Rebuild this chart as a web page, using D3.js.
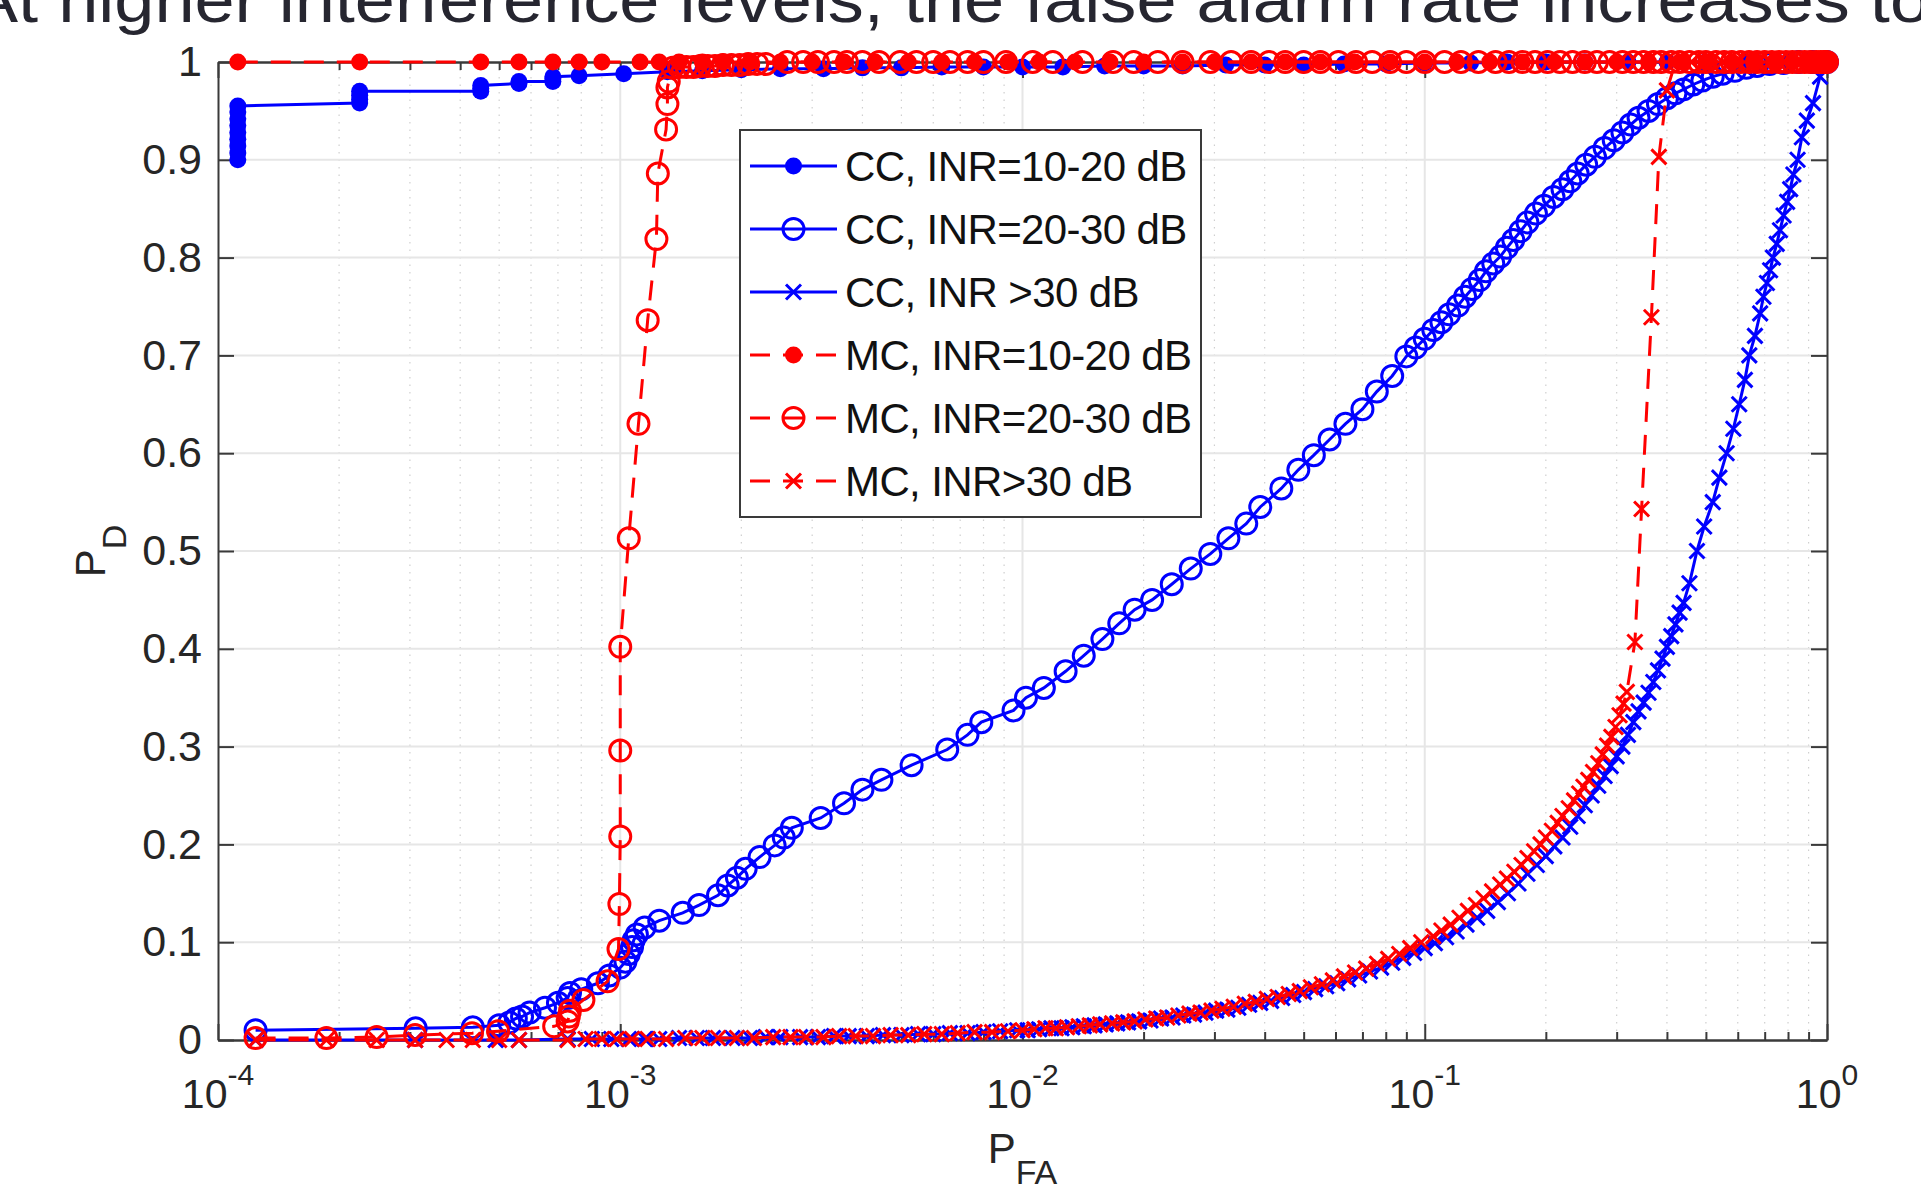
<!DOCTYPE html>
<html>
<head>
<meta charset="utf-8">
<script src="https://cdn.jsdelivr.net/npm/d3@7/dist/d3.min.js"></script>
<style>
    body { margin: 0; background: #fff; }
    svg { display: block; }
</style>
</head>
<body>
<div id="app"></div>
<script>
const titleText = 'At higher interference levels, the false alarm rate increases to';

const seriesNames = ['CC, INR=10-20 dB', 'CC, INR=20-30 dB', 'CC, INR >30 dB',
    'MC, INR=10-20 dB', 'MC, INR=20-30 dB', 'MC, INR>30 dB'];

const yTicks = [0, 0.1, 0.2, 0.3, 0.4, 0.5, 0.6, 0.7, 0.8, 0.9, 1];
const xTicks = [1e-4, 1e-3, 1e-2, 1e-1, 1];

// [P_FA, P_D] pairs
const ccLow = [[1.12e-4,0.900],[1.12e-4,0.907],[1.12e-4,0.914],[1.12e-4,0.921],[1.12e-4,0.928],[1.12e-4,0.935],
    [1.12e-4,0.942],[1.12e-4,0.949],[1.12e-4,0.955],[2.25e-4,0.958],[2.25e-4,0.962],[2.25e-4,0.966],[2.25e-4,0.970],
    [4.5e-4,0.970],[4.5e-4,0.973],[4.5e-4,0.976],[5.6e-4,0.978],[5.6e-4,0.980],[6.8e-4,0.980],[6.8e-4,0.983],
    [6.8e-4,0.985],[7.9e-4,0.986],[1.02e-3,0.988],[1.31e-3,0.990],[1.6e-3,0.991],[2e-3,0.992],[2.5e-3,0.993],
    [3.2e-3,0.993],[4e-3,0.994],[5e-3,0.994],[6.3e-3,0.995],[8e-3,0.995],[1e-2,0.995],[1.26e-2,0.995],[1.6e-2,0.996],
    [2e-2,0.996],[2.5e-2,0.996],[3.2e-2,0.997],[4e-2,0.997],[5e-2,0.997],[6.3e-2,0.998],[8e-2,0.998],[0.1,0.999],
    [0.13,0.999],[0.16,1],[0.2,1],[0.25,1],[0.32,1],[0.4,1],[0.5,1],[0.63,1],[0.8,1],[1,1]];

const ccMid = [[1.24e-4,0.010],[3.1e-4,0.012],[4.3e-4,0.013],[5.0e-4,0.015],[5.3e-4,0.018],[5.5e-4,0.022],
    [5.7e-4,0.024],[5.95e-4,0.028],[6.5e-4,0.033],[7.0e-4,0.038],[7.4e-4,0.043],[7.5e-4,0.048],[8.0e-4,0.052],
    [8.8e-4,0.058],[9.4e-4,0.066],[1.0e-3,0.074],[1.03e-3,0.080],[1.05e-3,0.088],[1.07e-3,0.095],[1.08e-3,0.102],
    [1.1e-3,0.108],[1.15e-3,0.115],[1.25e-3,0.122],[1.43e-3,0.130],[1.57e-3,0.138],[1.75e-3,0.148],[1.85e-3,0.158],
    [1.95e-3,0.166],[2.05e-3,0.175],[2.22e-3,0.187],[2.42e-3,0.199],[2.55e-3,0.207],[2.67e-3,0.217],[3.15e-3,0.227],
    [3.6e-3,0.242],[4.0e-3,0.256],[4.46e-3,0.266],[5.3e-3,0.281],[6.5e-3,0.297],[7.3e-3,0.312],[7.9e-3,0.325],
    [9.5e-3,0.337],[1.02e-2,0.350],[1.13e-2,0.360],[1.28e-2,0.377],[1.42e-2,0.393],[1.58e-2,0.410],[1.74e-2,0.426],
    [1.9e-2,0.440],[2.1e-2,0.450],[2.35e-2,0.466],[2.62e-2,0.482],[2.93e-2,0.497],[3.25e-2,0.513],[3.6e-2,0.528],
    [3.9e-2,0.545],[4.4e-2,0.564],[4.85e-2,0.583],[5.3e-2,0.598],[5.8e-2,0.614],[6.35e-2,0.630],[7.0e-2,0.645],
    [7.6e-2,0.663],[8.3e-2,0.679],[9.0e-2,0.699],[0.095,0.708],[0.1,0.717],[0.105,0.726],[0.11,0.734],[0.115,0.742],
    [0.121,0.751],[0.126,0.760],[0.131,0.768],[0.137,0.777],[0.142,0.786],[0.148,0.794],[0.154,0.801],[0.16,0.810],
    [0.166,0.818],[0.173,0.827],[0.18,0.836],[0.189,0.845],[0.198,0.853],[0.209,0.862],[0.22,0.870],[0.23,0.878],
    [0.24,0.886],[0.252,0.895],[0.265,0.903],[0.28,0.912],[0.295,0.920],[0.31,0.928],[0.325,0.936],[0.34,0.943],
    [0.36,0.950],[0.38,0.957],[0.4,0.963],[0.42,0.968],[0.44,0.972],[0.465,0.977],[0.49,0.981],[0.52,0.985],
    [0.55,0.988],[0.59,0.991],[0.63,0.994],[0.67,0.996],[0.72,0.998],[0.78,0.999],[0.85,1],[0.92,1],[1,1]];

const ccHigh = [[1.24e-4,0],[3.09e-4,0],[4.9e-4,0],[5.6e-4,0],[7.4e-4,0.001],[8.5e-4,0.001],[9.5e-4,0.001],
    [1.05e-3,0.001],[1.15e-3,0.001],[1.25e-3,0.001],[1.4e-3,0.002],[1.55e-3,0.002],[1.7e-3,0.002],[1.9e-3,0.002],
    [2.1e-3,0.002],[2.3e-3,0.003],[2.5e-3,0.003],[2.8e-3,0.003],[3.1e-3,0.003],[3.4e-3,0.004],[3.7e-3,0.004],
    [4.1e-3,0.004],[4.5e-3,0.005],[5e-3,0.005],[5.5e-3,0.006],[6e-3,0.006],[6.6e-3,0.007],[7.3e-3,0.007],
    [8e-3,0.008],[8.8e-3,0.009],[9.7e-3,0.010],[1.03e-2,0.010],[1.1e-2,0.011],[1.18e-2,0.012],[1.25e-2,0.012],
    [1.33e-2,0.013],[1.42e-2,0.014],[1.51e-2,0.015],[1.61e-2,0.016],[1.72e-2,0.017],[1.83e-2,0.018],[1.95e-2,0.019],
    [2.08e-2,0.020],[2.21e-2,0.022],[2.36e-2,0.023],[2.51e-2,0.025],[2.67e-2,0.026],[2.85e-2,0.028],[3.03e-2,0.030],
    [3.23e-2,0.031],[3.44e-2,0.033],[3.66e-2,0.036],[3.9e-2,0.038],[4.15e-2,0.040],[4.42e-2,0.043],[4.71e-2,0.046],
    [5.01e-2,0.049],[5.34e-2,0.052],[5.69e-2,0.055],[6.06e-2,0.058],[6.45e-2,0.062],[6.87e-2,0.066],[7.31e-2,0.070],
    [7.79e-2,0.074],[8.3e-2,0.079],[8.84e-2,0.084],[9.41e-2,0.089],[0.1,0.094],[0.106,0.099],[0.113,0.105],
    [0.12,0.111],[0.127,0.118],[0.135,0.125],[0.143,0.132],[0.152,0.141],[0.161,0.150],[0.171,0.160],[0.18,0.170],
    [0.19,0.179],[0.2,0.188],[0.21,0.198],[0.22,0.207],[0.23,0.218],[0.24,0.229],[0.25,0.240],[0.26,0.250],
    [0.27,0.260],[0.28,0.270],[0.29,0.280],[0.3,0.290],[0.31,0.300],[0.32,0.312],[0.33,0.325],[0.34,0.336],
    [0.35,0.345],[0.36,0.355],[0.37,0.366],[0.38,0.378],[0.39,0.390],[0.4,0.402],[0.41,0.413],[0.42,0.425],
    [0.43,0.437],[0.44,0.447],[0.455,0.467],[0.475,0.500],[0.495,0.525],[0.52,0.550],[0.54,0.575],[0.563,0.600],
    [0.585,0.625],[0.605,0.650],[0.625,0.675],[0.641,0.700],[0.662,0.720],[0.682,0.743],[0.695,0.760],[0.709,0.774],
    [0.722,0.787],[0.734,0.800],[0.75,0.814],[0.764,0.828],[0.78,0.843],[0.796,0.857],[0.81,0.870],[0.825,0.885],
    [0.845,0.900],[0.866,0.923],[0.891,0.940],[0.923,0.958],[0.961,0.985],[1,1]];

const mcLow = [[1.12e-4,1],[2.25e-4,1],[4.5e-4,1],[5.6e-4,1],[6.8e-4,1],[7.9e-4,1],[9.0e-4,1],[1.12e-3,1],
    [1.25e-3,1],[1.4e-3,1],[1.6e-3,1],[1.8e-3,1],[2.1e-3,1],[2.5e-3,1],[3e-3,1],[3.6e-3,1],[4.3e-3,1],[5.2e-3,1],
    [6.3e-3,1],[7.6e-3,1],[9.2e-3,1],[1.1e-2,1],[1.35e-2,1],[1.65e-2,1],[2e-2,1],[2.5e-2,1],[3e-2,1],[3.7e-2,1],
    [4.5e-2,1],[5.5e-2,1],[6.7e-2,1],[8.2e-2,1],[0.1,1],[0.12,1],[0.145,1],[0.175,1],[0.21,1],[0.25,1],[0.3,1],
    [0.36,1],[0.43,1],[0.5,1],[0.58,1],[0.66,1],[0.74,1],[0.82,1],[0.9,1],[0.95,1],[1,1]];

const mcMid = [[1.24e-4,0.002],[1.86e-4,0.002],[2.48e-4,0.003],[3.09e-4,0.005],[4.28e-4,0.007],[4.97e-4,0.009],
    [6.85e-4,0.014],[7.4e-4,0.019],[7.45e-4,0.024],[7.5e-4,0.030],[8.1e-4,0.041],[9.3e-4,0.060],[9.9e-4,0.093],
    [9.95e-4,0.139],[1.0e-3,0.208],[1.0e-3,0.296],[1.0e-3,0.402],[1.05e-3,0.513],[1.11e-3,0.630],[1.17e-3,0.736],
    [1.23e-3,0.819],[1.24e-3,0.886],[1.3e-3,0.931],[1.31e-3,0.957],[1.31e-3,0.974],[1.32e-3,0.980],[1.35e-3,0.994],
    [1.4e-3,0.995],[1.46e-3,0.995],[1.52e-3,0.995],[1.58e-3,0.996],[1.65e-3,0.996],[1.72e-3,0.996],[1.8e-3,0.997],
    [1.89e-3,0.997],[1.98e-3,0.997],[2.08e-3,0.998],[2.19e-3,0.998],[2.3e-3,0.998],[2.6e-3,1],[2.85e-3,1],[3.1e-3,1],
    [3.4e-3,1],[3.66e-3,1],[4.0e-3,1],[4.4e-3,1],[4.96e-3,1],[5.45e-3,1],[6.0e-3,1],[6.6e-3,1],[7.3e-3,1],[8.0e-3,1],
    [9.1e-3,1],[1.06e-2,1],[1.19e-2,1],[1.41e-2,1],[1.68e-2,1],[1.89e-2,1],[2.17e-2,1],[2.5e-2,1],[2.93e-2,1],
    [3.3e-2,1],[3.7e-2,1],[4.1e-2,1],[4.5e-2,1],[5.0e-2,1],[5.5e-2,1],[6.1e-2,1],[6.75e-2,1],[7.4e-2,1],[8.2e-2,1],
    [9.0e-2,1],[0.1,1],[0.112,1],[0.123,1],[0.136,1],[0.15,1],[0.162,1],[0.175,1],[0.188,1],[0.202,1],[0.217,1],
    [0.233,1],[0.25,1],[0.268,1],[0.288,1],[0.31,1],[0.33,1],[0.35,1],[0.37,1],[0.387,1],[0.41,1],[0.43,1],
    [0.455,1],[0.48,1],[0.5,1],[0.53,1],[0.555,1],[0.58,1],[0.61,1],[0.64,1],[0.67,1],[0.7,1],[0.73,1],[0.76,1],
    [0.79,1],[0.82,1],[0.85,1],[0.88,1],[0.91,1],[0.94,1],[0.965,1],[0.985,1],[1,1]];

const mcHigh = [[1.24e-4,0],[1.86e-4,0],[2.48e-4,0],[3.09e-4,0],[3.7e-4,0],[4.3e-4,0],[5.0e-4,0],[5.6e-4,0],
    [7.4e-4,0],[8.2e-4,0.001],[9e-4,0.001],[9.8e-4,0.001],[1.07e-3,0.001],[1.17e-3,0.001],[1.3e-3,0.001],
    [1.45e-3,0.002],[1.6e-3,0.002],[1.75e-3,0.002],[1.95e-3,0.002],[2.15e-3,0.002],[2.4e-3,0.003],[2.65e-3,0.003],
    [2.9e-3,0.003],[3.2e-3,0.003],[3.5e-3,0.004],[3.85e-3,0.004],[4.25e-3,0.004],[4.7e-3,0.005],[5.2e-3,0.005],
    [5.7e-3,0.006],[6.3e-3,0.006],[6.9e-3,0.007],[7.6e-3,0.008],[8.4e-3,0.008],[9.2e-3,0.009],[1e-2,0.010],
    [1.07e-2,0.011],[1.14e-2,0.012],[1.21e-2,0.012],[1.29e-2,0.013],[1.38e-2,0.014],[1.47e-2,0.015],[1.56e-2,0.016],
    [1.67e-2,0.017],[1.78e-2,0.018],[1.9e-2,0.019],[2.02e-2,0.021],[2.15e-2,0.022],[2.29e-2,0.023],[2.44e-2,0.025],
    [2.6e-2,0.027],[2.77e-2,0.028],[2.95e-2,0.030],[3.14e-2,0.032],[3.35e-2,0.034],[3.57e-2,0.037],[3.8e-2,0.039],
    [4.05e-2,0.042],[4.31e-2,0.044],[4.59e-2,0.047],[4.89e-2,0.050],[5.21e-2,0.054],[5.55e-2,0.057],[5.91e-2,0.061],
    [6.3e-2,0.065],[6.71e-2,0.069],[7.15e-2,0.073],[7.61e-2,0.078],[8.11e-2,0.083],[8.64e-2,0.088],[9.2e-2,0.094],
    [9.8e-2,0.100],[0.105,0.106],[0.11,0.112],[0.116,0.118],[0.122,0.125],[0.128,0.132],[0.134,0.138],[0.14,0.145],
    [0.147,0.152],[0.154,0.159],[0.16,0.165],[0.167,0.172],[0.174,0.179],[0.18,0.186],[0.187,0.193],[0.194,0.200],
    [0.2,0.207],[0.207,0.214],[0.214,0.222],[0.22,0.229],[0.228,0.237],[0.235,0.245],[0.242,0.252],[0.248,0.259],
    [0.255,0.266],[0.262,0.274],[0.27,0.283],[0.277,0.292],[0.284,0.301],[0.291,0.310],[0.298,0.320],[0.305,0.332],
    [0.312,0.344],[0.318,0.356],[0.333,0.407],[0.346,0.543],[0.366,0.739],[0.382,0.903],[0.4,0.971],[0.42,1],
    [0.46,1],[0.5,1],[0.55,1],[0.6,1],[0.66,1],[0.72,1],[0.78,1],[0.84,1],[0.9,1],[0.95,1],[1,1]];

const draw = () => {

    const width = 1921;
    const height = 1190;
    const left = 218, right = 1827, top = 62, bottom = 1040;
    const axisColor = '#3a3a3a';
    const font = '"Liberation Sans", Arial, sans-serif';

    const svg = d3.select('#app')
        .append('svg')
        .attr('width', width)
        .attr('height', height);

    const x = d3.scaleLog().domain([1e-4, 1]).range([left, right]);
    const y = d3.scaleLinear().domain([0, 1]).range([bottom, top]);

    // slide title, cut off at the top edge like the source
    svg.append('text')
        .attr('x', -30)
        .attr('y', 22)
        .attr('font-family', '"Liberation Sans Narrow", "Liberation Sans", sans-serif')
        .attr('font-size', 64)
        .attr('fill', '#262630')
        .attr('textLength', 1960)
        .attr('lengthAdjust', 'spacingAndGlyphs')
        .text(titleText);

    const minorTicks = x.ticks().filter(function (d) {
        return Math.abs(Math.log10(d) - Math.round(Math.log10(d))) > 1e-6;
    });

    // grid
    const grid = svg.append('g');
    grid.selectAll('.minor')
        .data(minorTicks)
        .enter()
        .append('line')
        .attr('x1', d => x(d)).attr('x2', d => x(d))
        .attr('y1', top).attr('y2', bottom)
        .attr('stroke', '#cfcfcf')
        .attr('stroke-width', 1.2)
        .attr('stroke-dasharray', '1.5,6');
    grid.selectAll('.vmajor')
        .data(xTicks.slice(1, -1))
        .enter()
        .append('line')
        .attr('x1', d => x(d)).attr('x2', d => x(d))
        .attr('y1', top).attr('y2', bottom)
        .attr('stroke', '#e6e6e6')
        .attr('stroke-width', 2);
    grid.selectAll('.hmajor')
        .data(yTicks.slice(1, -1))
        .enter()
        .append('line')
        .attr('x1', left).attr('x2', right)
        .attr('y1', d => y(d)).attr('y2', d => y(d))
        .attr('stroke', '#e6e6e6')
        .attr('stroke-width', 2);

    // axes (ticks inside, box on)
    const gLeft = svg.append('g')
        .attr('transform', 'translate(' + left + ',0)')
        .call(d3.axisLeft(y).tickValues(yTicks).tickSize(-16).tickSizeOuter(0).tickPadding(16)
            .tickFormat(d3.format('')));
    const gRight = svg.append('g')
        .attr('transform', 'translate(' + right + ',0)')
        .call(d3.axisRight(y).tickValues(yTicks).tickSize(-16).tickSizeOuter(0).tickFormat(''));
    const gBottomMinor = svg.append('g')
        .attr('transform', 'translate(0,' + bottom + ')')
        .call(d3.axisBottom(x).tickValues(minorTicks).tickSize(-8).tickSizeOuter(0).tickFormat(''));
    const gBottom = svg.append('g')
        .attr('transform', 'translate(0,' + bottom + ')')
        .call(d3.axisBottom(x).tickValues(xTicks).tickSize(-16).tickSizeOuter(0).tickFormat(''));
    const gTopMinor = svg.append('g')
        .attr('transform', 'translate(0,' + top + ')')
        .call(d3.axisTop(x).tickValues(minorTicks).tickSize(-8).tickSizeOuter(0).tickFormat(''));
    const gTop = svg.append('g')
        .attr('transform', 'translate(0,' + top + ')')
        .call(d3.axisTop(x).tickValues(xTicks).tickSize(-16).tickSizeOuter(0).tickFormat(''));

    [gLeft, gRight, gBottomMinor, gBottom, gTopMinor, gTop].forEach(function (g) {
        g.selectAll('path, line').attr('stroke', axisColor).attr('stroke-width', 2);
    });
    gLeft.selectAll('text')
        .attr('font-family', font)
        .attr('font-size', 43)
        .attr('fill', '#262626');

    // x tick labels as 10^k
    const xLabels = svg.append('g')
        .selectAll('text')
        .data(xTicks)
        .enter()
        .append('text')
        .attr('x', d => x(d))
        .attr('y', 1108)
        .attr('text-anchor', 'middle')
        .attr('font-family', font)
        .attr('fill', '#262626');
    xLabels.append('tspan').attr('font-size', 41).text('10');
    xLabels.append('tspan')
        .attr('font-size', 30)
        .attr('dy', -23)
        .text(d => String(Math.round(Math.log10(d))));

    // axis labels
    const xTitle = svg.append('text')
        .attr('x', (left + right) / 2)
        .attr('y', 1163)
        .attr('text-anchor', 'middle')
        .attr('font-family', font)
        .attr('fill', '#262626');
    xTitle.append('tspan').attr('font-size', 42).text('P');
    xTitle.append('tspan').attr('font-size', 34).attr('dy', 21).text('FA');

    const yTitle = svg.append('text')
        .attr('transform', 'translate(105,' + ((top + bottom) / 2) + ') rotate(-90)')
        .attr('text-anchor', 'middle')
        .attr('font-family', font)
        .attr('fill', '#262626');
    yTitle.append('tspan').attr('font-size', 42).text('P');
    yTitle.append('tspan').attr('font-size', 34).attr('dy', 21).text('D');

    // series
    const series = [
        { name: seriesNames[0], data: ccLow, color: '#0000ff', dash: null, marker: 'dot' },
        { name: seriesNames[1], data: ccMid, color: '#0000ff', dash: null, marker: 'circle' },
        { name: seriesNames[2], data: ccHigh, color: '#0000ff', dash: null, marker: 'x' },
        { name: seriesNames[3], data: mcLow, color: '#ff0000', dash: '20,13', marker: 'dot' },
        { name: seriesNames[4], data: mcMid, color: '#ff0000', dash: '20,13', marker: 'circle' },
        { name: seriesNames[5], data: mcHigh, color: '#ff0000', dash: '20,13', marker: 'x' }
    ];

    const line = d3.line()
        .x(function (d) { return x(d[0]); })
        .y(function (d) { return y(d[1]); });

    const addMarker = function (sel, s) {
        if (s.marker === 'dot') {
            sel.append('circle').attr('r', 8.5).attr('fill', s.color);
        } else if (s.marker === 'circle') {
            sel.append('circle').attr('r', 10.5).attr('fill', 'none')
                .attr('stroke', s.color).attr('stroke-width', 3);
        } else {
            sel.append('path').attr('d', 'M-7.5,-7.5L7.5,7.5M-7.5,7.5L7.5,-7.5')
                .attr('fill', 'none').attr('stroke', s.color).attr('stroke-width', 3);
        }
    };

    series.forEach(function (s) {
        const g = svg.append('g');
        g.append('path')
            .attr('d', line(s.data))
            .attr('fill', 'none')
            .attr('stroke', s.color)
            .attr('stroke-width', 3)
            .attr('stroke-dasharray', s.dash);
        const marks = g.selectAll('g')
            .data(s.data)
            .enter()
            .append('g')
            .attr('transform', function (d) { return 'translate(' + x(d[0]) + ',' + y(d[1]) + ')'; });
        addMarker(marks, s);
    });

    // legend
    const legend = svg.append('g');
    legend.append('rect')
        .attr('x', 740).attr('y', 130)
        .attr('width', 461).attr('height', 387)
        .attr('fill', '#fff')
        .attr('stroke', axisColor)
        .attr('stroke-width', 2);

    const rows = legend.selectAll('.row')
        .data(series)
        .enter()
        .append('g')
        .attr('transform', function (d, i) { return 'translate(0,' + (166 + i * 63) + ')'; });
    rows.append('line')
        .attr('x1', 750).attr('x2', 837)
        .attr('stroke', d => d.color)
        .attr('stroke-width', 3)
        .attr('stroke-dasharray', d => d.dash);
    rows.each(function (d) {
        const m = d3.select(this).append('g').attr('transform', 'translate(793.5,0)');
        addMarker(m, d);
    });
    rows.append('text')
        .attr('x', 845)
        .attr('y', 15)
        .attr('font-family', font)
        .attr('font-size', 42)
        .attr('letter-spacing', -0.6)
        .attr('fill', '#111')
        .text(d => d.name);
};

draw();
</script>
</body>
</html>
